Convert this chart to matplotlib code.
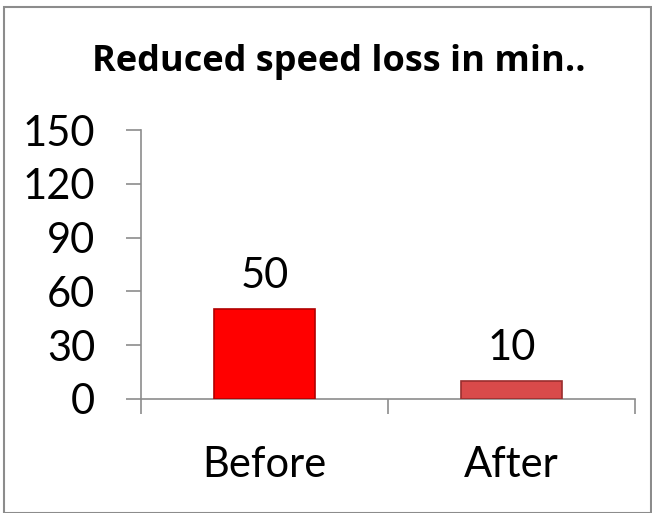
import matplotlib

matplotlib.use("Agg")
import matplotlib.pyplot as plt
from matplotlib.patches import Rectangle

plt.rcParams["font.family"] = ["Lato", "DejaVu Sans"]

categories = ["Before", "After"]
values = [50, 10]
bar_colors = ["#FF0000", "#D94A4A"]
edge_colors = ["#B00000", "#9A2E2E"]
y_ticks = [0, 30, 60, 90, 120, 150]

fig = plt.figure(figsize=(6.52, 5.13), dpi=100)
fig.patch.set_facecolor("white")

# outer chart border
fig.add_artist(Rectangle((4 / 652, 0.0), 647 / 652, 1 - 7 / 513, transform=fig.transFigure,
                         fill=False, edgecolor="#8C8C8C", linewidth=1.5))

ax = fig.add_axes([141 / 652, 1 - 399 / 513, (635 - 141) / 652, 269 / 513])
x = range(len(categories))
bars = ax.bar(x, values, width=0.405, color=bar_colors, edgecolor=edge_colors, linewidth=1.2, zorder=3)

for bar, val in zip(bars, values):
    ax.text(bar.get_x() + bar.get_width() / 2, val + 8, str(val),
            ha="center", va="bottom", fontsize=30, color="#000000")

ax.set_xlim(-0.5, 1.5)
ax.set_ylim(0, 150)
ax.set_yticks(y_ticks)
ax.set_yticklabels([str(t) for t in y_ticks], fontsize=30)
ax.set_xticks(list(x))
ax.set_xticklabels(categories, fontsize=30)
ax.set_xticks([-0.5, 0.5, 1.5], minor=True)
ax.tick_params(axis="x", which="major", length=0, pad=34)
ax.tick_params(axis="x", which="minor", length=11, color="#8C8C8C", width=1.2)
ax.tick_params(axis="y", length=11, color="#8C8C8C", width=1.2, pad=22)

for side in ["top", "right"]:
    ax.spines[side].set_visible(False)
for side in ["left", "bottom"]:
    ax.spines[side].set_color("#8C8C8C")
    ax.spines[side].set_linewidth(1.2)

fig.text(339 / 652, 1 - 62 / 513, "Reduced speed loss in min..", ha="center", va="center",
         fontsize=26, fontweight="bold", family=["Open Sans", "DejaVu Sans"])

fig.savefig("out.png", dpi=100)
